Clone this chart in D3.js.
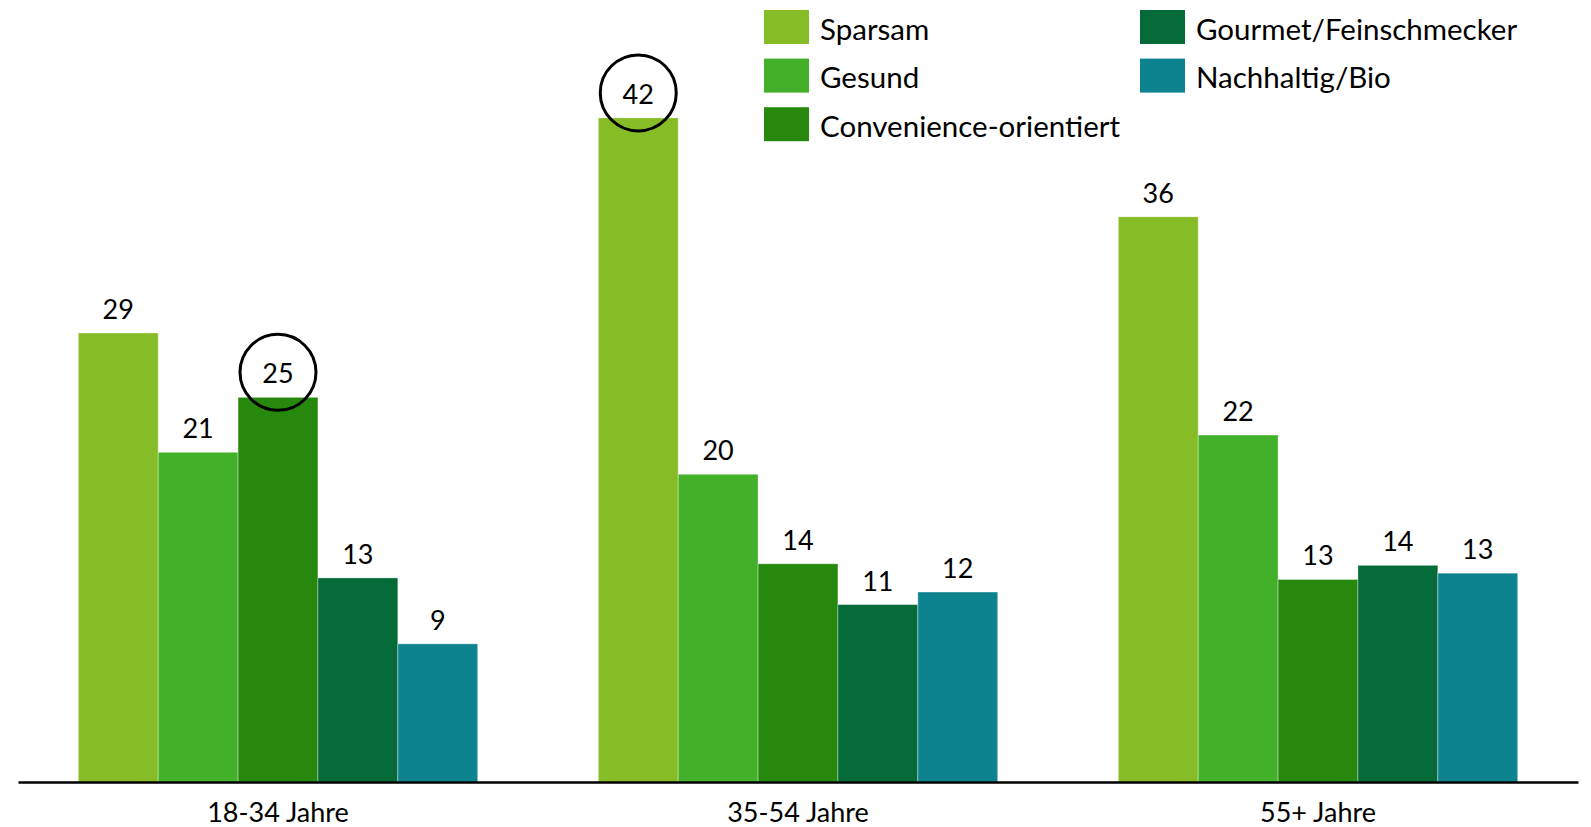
<!DOCTYPE html>
<html lang="de">
<head>
<meta charset="UTF-8">
<title>Einkaufstypen nach Altersgruppen</title>
<script src="https://d3js.org/d3.v7.min.js"></script>
<style>
    body { margin: 0; background: #fff; }
    svg { display: block; font-family: Lato, "Open Sans", sans-serif; }
    .value-label { font-size: 27px; fill: #000; text-anchor: middle; }
    .cat-label { font-size: 27px; fill: #000; text-anchor: middle; }
    .legend text { font-size: 29.5px; fill: #000; }
</style>
</head>
<body>
<svg width="1591" height="827"></svg>
<script>
// data
var groups = ["18-34 Jahre", "35-54 Jahre", "55+ Jahre"];
var series = ["Sparsam", "Gesund", "Convenience-orientiert", "Gourmet/Feinschmecker", "Nachhaltig/Bio"];
var colors = ["#86bc25", "#43b02a", "#26890d", "#046a38", "#0d8390"];
var sparsam = [28.6, 42.3, 36.0];
var gesund = [21.0, 19.6, 22.1];
var convenience = [24.5, 13.9, 12.9];
var gourmet = [13.0, 11.3, 13.8];
var nachhaltig = [8.8, 12.1, 13.3];
// which value gets a circle: [group, series]
var highlights = [[0, 2], [1, 0]];

var values = [sparsam, gesund, convenience, gourmet, nachhaltig];

var svg = d3.select("svg");

var x = d3.scaleBand().domain(groups).range([18, 1578])
    .paddingInner(0.232).paddingOuter(0.116);
var xs = d3.scaleBand().domain(series).range([0, x.bandwidth()]);
var y = d3.scaleLinear().domain([0, 40]).range([782, 782 - 628]);
var color = d3.scaleOrdinal().domain(series).range(colors);

// flatten for drawing
var rows = [];
groups.forEach(function(g, gi) {
    series.forEach(function(s, si) {
        rows.push({group: g, gi: gi, series: s, si: si, value: values[si][gi]});
    });
});

svg.append("g").selectAll("rect")
    .data(rows)
    .enter().append("rect")
    .attr("x", function(d) { return x(d.group) + xs(d.series); })
    .attr("y", function(d) { return y(d.value); })
    .attr("width", xs.bandwidth())
    .attr("height", function(d) { return y(0) - y(d.value); })
    .attr("fill", function(d) { return color(d.series); })
    .attr("stroke", "rgba(255,255,255,0.35)")
    .attr("stroke-width", 1);

svg.append("g").selectAll("text")
    .data(rows)
    .enter().append("text")
    .attr("class", "value-label")
    .attr("x", function(d) { return x(d.group) + xs(d.series) + xs.bandwidth() / 2; })
    .attr("y", function(d) { return y(d.value) - 14; })
    .text(function(d) { return Math.round(d.value); });

// circles round the highlighted labels
svg.append("g").selectAll("circle")
    .data(highlights)
    .enter().append("circle")
    .attr("cx", function(h) { return x(groups[h[0]]) + xs(series[h[1]]) + xs.bandwidth() / 2; })
    .attr("cy", function(h) { return y(values[h[1]][h[0]]) - 25; })
    .attr("r", 38)
    .attr("fill", "none")
    .attr("stroke", "#000")
    .attr("stroke-width", 3);

// axis
var xAxis = svg.append("g")
    .attr("transform", "translate(0," + y(0) + ")")
    .call(d3.axisBottom(x).tickSize(0).tickPadding(0));
xAxis.select(".domain").attr("stroke", "#000").attr("stroke-width", 2.5);
xAxis.selectAll(".tick text").remove();
svg.append("g").selectAll("text")
    .data(groups)
    .enter().append("text")
    .attr("class", "cat-label")
    .attr("x", function(d) { return x(d) + x.bandwidth() / 2; })
    .attr("y", y(0) + 40)
    .text(function(d) { return d; });

// legend
var legend = svg.append("g").attr("class", "legend")
    .selectAll("g")
    .data(series)
    .enter().append("g")
    .attr("transform", function(d, i) {
        var col = i < 3 ? 0 : 1;
        var row = i < 3 ? i : i - 3;
        return "translate(" + (col === 0 ? 764 : 1140) + "," + (10 + row * 48.6) + ")";
    });
legend.append("rect")
    .attr("width", 45)
    .attr("height", 34)
    .attr("fill", function(d) { return color(d); });
legend.append("text")
    .attr("x", 56)
    .attr("y", 19)
    .attr("dy", "0.36em")
    .text(function(d) { return d; });
</script>
</body>
</html>
